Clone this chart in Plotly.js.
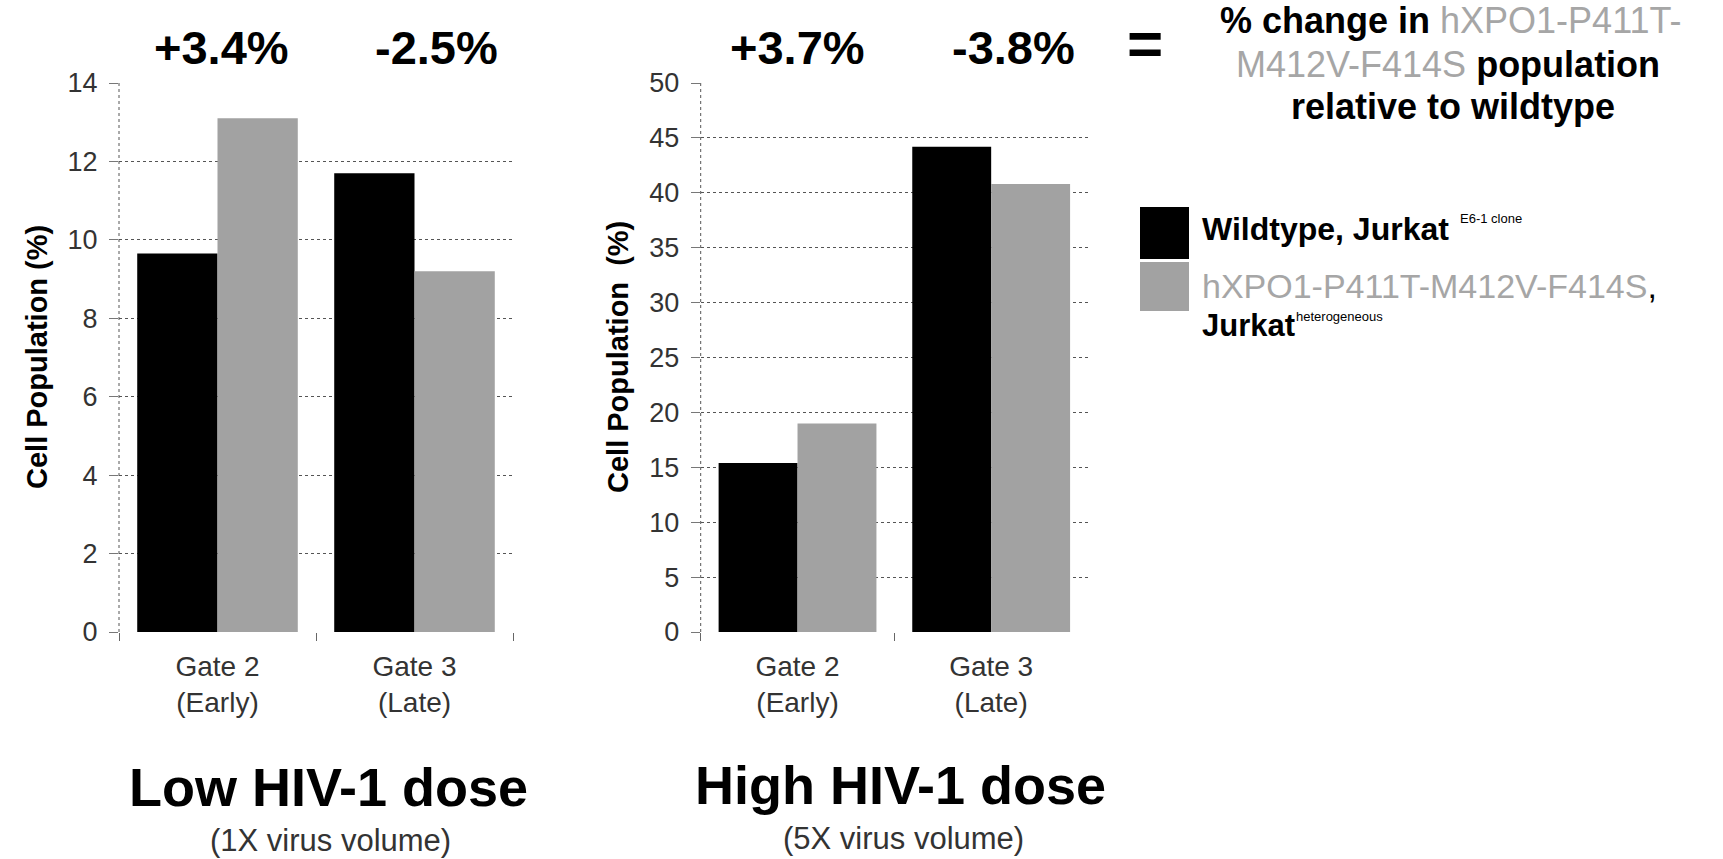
<!DOCTYPE html>
<html>
<head>
<meta charset="utf-8">
<script src="https://cdn.plot.ly/plotly-3.0.1.min.js"></script>
<style>
  html, body { margin: 0; padding: 0; background: #ffffff; }
  #chart { width: 1723px; height: 859px; }
</style>
</head>
<body>
<div id="chart"></div>
<script>
// ---- data ----
const categories = ['Gate 2<br>(Early)', 'Gate 3<br>(Late)'];
const lowWildtype = [9.65, 11.7];
const lowMutant = [13.1, 9.2];
const highWildtype = [15.4, 44.2];
const highMutant = [19.0, 40.8];
const lowChange = ['+3.4%', '-2.5%'];
const highChange = ['+3.7%', '-3.8%'];
const seriesNames = ['Wildtype, Jurkat E6-1 clone', 'hXPO1-P411T-M412V-F414S, Jurkat heterogeneous'];

const FONT = 'Liberation Sans, Arial, Helvetica, sans-serif';
const BLACK = '#000000';
const GREY = '#a2a2a2';
const W = 1723, H = 859;
const px = v => v / W;
const py = v => 1 - v / H;

const traces = [
  {type: 'bar', x: categories, y: lowWildtype, name: seriesNames[0], marker: {color: BLACK}, xaxis: 'x', yaxis: 'y', showlegend: false},
  {type: 'bar', x: categories, y: lowMutant, name: seriesNames[1], marker: {color: GREY}, xaxis: 'x', yaxis: 'y', showlegend: false},
  {type: 'bar', x: categories, y: highWildtype, name: seriesNames[0], marker: {color: BLACK}, xaxis: 'x2', yaxis: 'y2', showlegend: false},
  {type: 'bar', x: categories, y: highMutant, name: seriesNames[1], marker: {color: GREY}, xaxis: 'x2', yaxis: 'y2', showlegend: false}
];

const yDomain = [py(632), py(83)];

function xAxis(domain, anchor) {
  return {
    domain: domain, anchor: anchor, type: 'category',
    showgrid: false, zeroline: false, showline: false,
    ticks: 'outside', tickson: 'boundaries', ticklen: 8, tickcolor: '#666', tickwidth: 1,
    ticklabelstandoff: 15,
    tickfont: {family: FONT, size: 28, color: '#333'},
    fixedrange: true
  };
}
function yAxis(domain, anchor, range, dtick) {
  return {
    domain: domain, anchor: anchor, range: range, dtick: dtick, tick0: 0,
    showgrid: true, gridcolor: '#555', griddash: 'dot', gridwidth: 1,
    zeroline: false, showline: false,
    ticks: 'outside', ticklen: 9, tickcolor: '#777', tickwidth: 1,
    ticklabelstandoff: 6,
    tickfont: {family: FONT, size: 27, color: '#333'},
    fixedrange: true
  };
}

function note(x, y, text, size, opts) {
  return Object.assign({
    xref: 'paper', yref: 'paper', x: px(x), y: py(y), text: text, showarrow: false,
    xanchor: 'center', yanchor: 'middle', font: {family: FONT, size: size, color: '#000'}
  }, opts || {});
}

const annotations = [];
lowChange.forEach((t, i) => annotations.push({
  xref: 'x', yref: 'paper', x: categories[i], y: py(48), xshift: i === 0 ? 4 : 22,
  text: '<b>' + t + '</b>', showarrow: false, xanchor: 'center', yanchor: 'middle',
  font: {family: FONT, size: 47, color: '#000'}
}));
highChange.forEach((t, i) => annotations.push({
  xref: 'x2', yref: 'paper', x: categories[i], y: py(48), xshift: i === 0 ? 0 : 22,
  text: '<b>' + t + '</b>', showarrow: false, xanchor: 'center', yanchor: 'middle',
  font: {family: FONT, size: 47, color: '#000'}
}));

// y axis titles
annotations.push(note(37, 357, '<b>Cell Population (%)</b>', 29, {textangle: -90}));
annotations.push(note(618, 357, '<b>Cell Population  (%)</b>', 29, {textangle: -90}));

// bottom titles
annotations.push(note(328, 787, '<b>Low HIV-1 dose</b>', 54));
annotations.push(note(330, 840, '(1X virus volume)', 31, {font: {family: FONT, size: 31, color: '#333'}}));
annotations.push(note(900, 785, '<b>High HIV-1 dose</b>', 54));
annotations.push(note(903, 838, '(5X virus volume)', 31, {font: {family: FONT, size: 31, color: '#333'}}));

// "=" and explanation
const LG = '#a6a6a6';
annotations.push(note(1145, 44, '<b>=</b>', 62));
annotations.push(note(1451, 21, '<b>% change in </b><span style="color:' + LG + '">hXPO1-P411T-</span>', 36));
annotations.push(note(1448, 64, '<span style="color:' + LG + '">M412V-F414S</span><b> population</b>', 36));
annotations.push(note(1453, 107, '<b>relative to wildtype</b>', 36));

// legend texts
annotations.push(note(1200, 229, '<b>Wildtype, Jurkat</b>', 32, {xanchor: 'left'}));
annotations.push(note(1458, 219, 'E6-1 clone', 13, {xanchor: 'left'}));
annotations.push(note(1200, 286, 'hXPO1-P411T-M412V-F414S<span style="color:#000">,</span>', 34,
  {xanchor: 'left', font: {family: FONT, size: 34, color: LG}}));
annotations.push(note(1200, 326, '<b>Jurkat</b>', 31, {xanchor: 'left'}));
annotations.push(note(1294, 316, 'heterogeneous', 13, {xanchor: 'left'}));

const shapes = [
  // dotted y-axis lines
  {type: 'line', xref: 'x domain', yref: 'y domain', x0: 0, x1: 0, y0: 0, y1: 1, line: {color: '#555', width: 1, dash: 'dot'}},
  {type: 'line', xref: 'x2 domain', yref: 'y2 domain', x0: 0, x1: 0, y0: 0, y1: 1, line: {color: '#555', width: 1, dash: 'dot'}},
  // legend swatches
  {type: 'rect', xref: 'paper', yref: 'paper', x0: px(1140), x1: px(1189), y0: py(259), y1: py(207), fillcolor: BLACK, line: {width: 0}},
  {type: 'rect', xref: 'paper', yref: 'paper', x0: px(1140), x1: px(1189), y0: py(311), y1: py(262), fillcolor: GREY, line: {width: 0}}
];

const layout = {
  width: W, height: H,
  margin: {l: 0, r: 0, t: 0, b: 0},
  paper_bgcolor: '#ffffff', plot_bgcolor: '#ffffff',
  barmode: 'group', bargap: 0.185, bargroupgap: 0,
  showlegend: false,
  xaxis: xAxis([px(119), px(513)], 'y'),
  yaxis: yAxis(yDomain, 'x', [0, 14], 2),
  xaxis2: xAxis([px(700.7), px(1088)], 'y2'),
  yaxis2: yAxis(yDomain, 'x2', [0, 50], 5),
  annotations: annotations,
  shapes: shapes,
  font: {family: FONT}
};

Plotly.newPlot('chart', traces, layout, {displayModeBar: false, staticPlot: true});
</script>
</body>
</html>
